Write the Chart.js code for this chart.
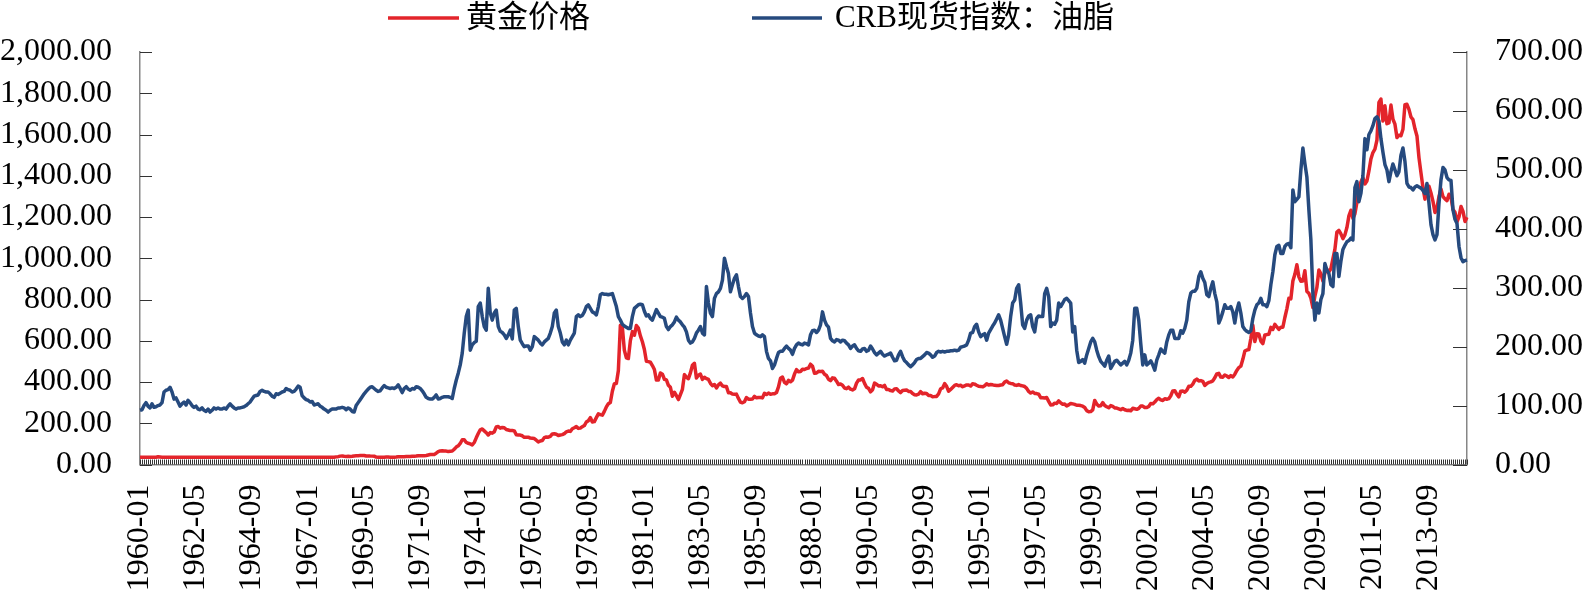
<!DOCTYPE html>
<html>
<head>
<meta charset="utf-8">
<script src="https://cdn.jsdelivr.net/npm/chart.js@4.4.1/dist/chart.umd.min.js"></script>
<style>
html,body{margin:0;padding:0;background:#fff;}
#wrap{width:1582px;height:590px;position:relative;}
</style>
</head>
<body>
<div id="wrap"><canvas id="c"></canvas></div>
<script>
// ---------- data ----------
const seriesNames = ['黄金价格', 'CRB现货指数：油脂'];
const startYear = 1960;
const labelStep = 28;               // a date label every 28 months
const leftTickValues = [0, 200, 400, 600, 800, 1000, 1200, 1400, 1600, 1800, 2000];
const rightTickValues = [0, 100, 200, 300, 400, 500, 600, 700];

// gold price, monthly (USD/oz), 1960-01 .. 2015-04
const gold = [
35.1,35.1,35.1,35.1,35.1,35.1,35.2,35.3,35.5,37.5,36.5,35.6,
35.6,35.4,35.2,35.1,35.1,35.1,35.1,35.2,35.2,35.1,35.1,35.1,
35.1,35.1,35.1,35.1,35.1,35.1,35.1,35.1,35.1,35.1,35.1,35.1,
35.1,35.1,35.1,35.1,35.1,35.1,35.1,35.1,35.1,35.1,35.1,35.1,
35.1,35.1,35.1,35.1,35.1,35.1,35.1,35.1,35.1,35.1,35.1,35.1,
35.1,35.1,35.2,35.2,35.1,35.1,35.1,35.2,35.2,35.2,35.2,35.2,
35.2,35.2,35.2,35.2,35.2,35.2,35.2,35.2,35.2,35.2,35.2,35.2,
35.2,35.2,35.2,35.2,35.2,35.2,35.2,35.2,35.2,35.2,35.2,35.2,
35.2,35.2,37.0,38.0,40.6,41.0,39.5,39.2,39.5,39.1,40.0,41.5,
42.3,42.6,43.3,43.5,43.5,41.3,41.8,41.0,40.6,40.4,36.1,35.2,
34.9,35.0,35.3,35.9,36.0,35.4,35.3,35.4,36.2,37.5,37.4,37.4,
37.9,38.7,38.9,39.0,40.5,40.1,41.0,42.7,42.0,42.5,42.9,43.5,
45.8,48.3,48.3,49.0,54.6,62.1,65.7,67.0,65.5,64.9,62.9,63.9,
65.1,74.2,84.4,90.5,102.0,120.1,120.2,106.8,103.0,100.1,94.9,106.7,
129.2,150.2,168.4,172.2,163.1,154.1,143.0,154.6,151.8,158.8,181.7,183.9,
176.3,179.6,178.2,169.8,167.4,164.3,165.2,163.1,144.1,142.8,142.8,139.3,
131.7,132.3,132.6,128.1,126.9,125.8,117.8,109.4,114.0,116.0,130.3,133.6,
132.3,136.3,148.2,149.2,146.6,140.8,143.3,144.9,149.4,158.6,162.1,160.5,
173.2,178.1,183.7,175.1,176.3,183.4,188.8,206.0,212.4,227.4,206.1,207.8,
227.3,245.7,242.0,239.2,257.6,279.1,294.7,300.8,355.1,391.7,392.5,455.1,
675.3,665.3,553.6,517.4,513.8,600.7,644.3,626.5,673.6,661.2,623.5,594.9,
557.4,500.4,498.8,495.8,479.7,460.8,409.3,410.1,443.8,437.8,413.4,410.1,
384.1,374.2,330.6,350.5,333.9,314.9,339.1,364.3,435.8,422.4,416.2,444.3,
481.3,491.0,419.7,432.8,438.4,412.7,422.7,416.3,412.2,393.7,381.7,388.0,
370.9,386.4,394.2,381.3,377.6,377.7,347.5,348.0,341.2,340.2,341.2,320.2,
302.8,299.1,304.0,324.5,316.5,316.6,317.5,330.3,323.3,325.0,324.9,322.9,
345.4,339.2,346.3,340.5,342.5,342.6,348.7,376.5,418.0,423.8,398.5,391.3,
408.3,401.1,408.9,438.4,460.1,449.6,451.0,461.6,460.3,465.4,467.4,486.3,
476.6,442.1,443.6,451.8,451.4,451.8,437.4,431.2,413.4,406.8,420.0,418.5,
404.0,388.0,390.1,384.2,371.0,367.6,375.0,365.4,361.7,366.9,394.3,409.5,
410.1,416.8,393.1,374.3,369.1,352.3,362.5,394.7,389.3,381.0,381.8,376.6,
383.6,363.3,363.5,358.4,356.8,366.7,367.7,356.4,348.7,358.7,360.0,361.1,
354.5,353.9,344.3,338.6,337.2,340.8,353.1,343.0,345.4,344.4,335.0,334.8,
329.0,329.3,330.1,342.2,367.2,371.4,392.0,378.9,355.3,364.2,373.8,383.3,
387.0,382.0,383.9,377.3,381.4,385.6,385.5,380.4,391.6,389.8,384.4,379.3,
378.6,376.5,381.8,391.0,385.2,387.6,386.2,383.7,383.1,383.0,385.5,387.0,
399.5,404.8,396.2,392.9,391.9,385.3,383.5,387.5,383.1,381.1,378.0,369.3,
354.2,346.5,351.8,344.5,343.8,340.8,324.1,324.0,322.8,324.9,306.0,288.7,
289.3,297.5,295.9,308.4,299.1,292.3,292.9,284.1,289.0,296.1,294.1,291.6,
287.1,287.3,285.9,282.6,276.4,261.3,256.1,256.7,264.7,310.7,293.2,283.1,
284.6,300.0,286.4,280.0,275.3,285.7,281.6,274.5,273.7,270.0,266.0,271.5,
265.5,261.9,263.0,260.5,272.4,270.2,267.5,272.4,283.4,283.1,276.2,275.9,
281.7,295.5,294.0,302.7,314.5,321.2,313.3,310.3,319.2,316.6,319.2,333.4,
356.9,358.0,340.6,328.2,355.7,356.4,351.0,359.8,378.9,378.9,389.9,407.6,
414.0,405.3,406.7,403.0,383.8,392.4,398.1,400.5,405.3,420.5,439.4,442.1,
424.0,423.4,434.2,429.2,421.9,430.7,424.5,437.9,456.0,469.9,476.7,509.8,
549.9,555.0,557.1,610.6,675.4,596.2,633.8,632.6,598.2,585.8,627.8,629.8,
631.2,664.8,654.9,679.4,666.9,655.5,665.3,665.4,712.7,754.6,806.3,803.2,
889.6,922.3,968.4,909.7,888.7,889.5,939.8,839.0,829.9,806.6,760.9,816.1,
858.7,943.2,924.3,890.2,928.6,945.7,934.2,949.4,996.6,1043.2,1127.0,1134.7,
1118.0,1095.4,1113.3,1148.7,1205.4,1232.9,1193.0,1215.8,1271.0,1342.0,1369.9,1390.6,
1360.5,1374.7,1423.3,1480.9,1512.6,1529.0,1572.8,1755.8,1771.9,1665.2,1739.0,1652.3,
1656.1,1742.6,1673.8,1650.1,1585.5,1596.7,1593.9,1626.0,1744.5,1746.6,1721.6,1684.8,
1671.9,1627.6,1593.1,1487.9,1414.0,1342.4,1286.7,1347.1,1348.6,1316.6,1275.8,1221.5,
1244.3,1299.6,1336.1,1299.0,1287.5,1279.1,1310.6,1296.0,1236.6,1222.5,1176.3,1200.6,
1250.8,1227.1,1178.6,1198.9
];

// CRB spot index: fats & oils, monthly in segments
const crbA = [ // 1960-01 .. 1964-12
92,93,100,105,99,96,103,97,98,100,101,105,
123,126,127,131,123,111,113,106,99,103,106,101,
109,105,100,97,99,94,93,96,92,90,94,89,
92,96,94,96,94,94,96,94,99,103,99,96,
94,96,96,97,98,100,103,106,111,116,117,118
];
const crbB = [ // 1965-01 .. 1970-03
124,126,124,123,123,120,116,114,120,119,121,123,
124,129,127,126,123,124,128,133,131,117,113,110,
109,106,107,101,102,103,99,97,94,92,89,92,
94,94,94,96,96,97,96,93,96,94,90,89,
100,105,110,115,120,124,128,131,132,129,126,124,
125,130,134
];
const crbC = [ // 1970-04 .. 1975-06
131,130,129,130,129,131,135,129,122,129,132,128,
126,129,128,132,131,129,125,120,114,112,111,111,
114,118,111,112,114,115,115,115,114,112,129,143,
155,169,189,223,251,262,194,203,207,209,268,274,
251,234,228,299,257,245,257,262,234,226,224,220,
214,220,228
];
const crbD = [ // 1975-07 .. 1980-08
213,262,265,234,211,205,200,201,201,194,200,217,
214,211,206,203,208,211,214,223,234,257,262,234,
223,208,203,211,203,211,217,223,251,254,251,253,
259,268,271,265,259,257,254,268,288,290,289,289,
288,289,290,279,268,251,245,238,235,233,231,231,
251,265
];
const crbE = [ // 1980-09 .. 1985-11
268,271,272,271,260,252,254,248,245,254,263,257,
251,250,248,234,229,234,237,242,250,245,242,237,
233,225,211,206,208,214,223,228,234,223,220,302,
274,257,251,282,290,293,299,313,350,336,324,293,
305,316,322,302,285,282,285,290,285,257,234,223,
220,218,217
];
const crbF = [ // 1985-12 .. 1991-01
220,217,192,180,176,163,169,180,190,192,192,197,
201,197,194,187,197,203,206,204,203,206,205,203,
220,227,228,224,228,237,259,245,237,233,214,210,
208,212,211,208,211,210,206,203,197,201,203,197,
193,192,196,197,192,194,201,196,190,186,189,192,
187,184
];
const crbG = [ // 1991-02 .. 1996-04
186,187,189,182,176,177,186,192,183,176,173,169,
166,169,173,178,180,180,183,186,190,189,186,182,
184,190,192,191,192,191,192,192,193,193,194,193,
194,199,200,201,203,211,223,224,234,238,225,217,
220,222,211,223,229,235,240,247,254,245,231,217,
204,220,251
];
const crbH = [ // 1996-05 .. 2001-06
274,279,299,305,274,237,231,245,252,254,234,225,
248,252,251,251,290,299,285,234,240,238,245,274,
268,274,280,282,278,274,225,234,194,173,175,178,
172,186,197,208,214,208,194,183,175,171,167,177,
184,163,169,175,177,173,169,172,175,169,177,189,
211,265
];
const crbI = [ // 2001-07 .. 2006-09
265,245,205,169,186,169,172,176,169,160,177,186,
196,192,189,208,220,228,228,214,214,214,227,223,
231,245,276,291,294,294,299,319,327,316,309,288,
285,299,310,290,276,240,248,259,271,265,265,268,
259,240,262,274,257,234,229,226,224,227,248,262,
271,274,282
];
const crbJ = [ // 2006-10 .. 2011-11
271,271,268,278,305,327,356,370,372,358,358,370,
374,375,368,466,446,450,454,500,537,511,488,432,
381,290,245,274,257,280,290,341,330,324,305,302,
358,358,319,345,365,372,378,380,384,381,470,480,
446,460,490,553,534,560,566,575,587,590,583,553,
530,509
];
const crbK = [ // 2011-12 .. 2015-04
500,480,497,510,500,490,497,525,537,514,477,471,
470,466,471,473,471,469,465,460,477,443,407,390,
381,390,443,483,504,500,487,483,482,432,416,409,
370,351,344,346,347
];

const crb = [].concat(crbA, crbB, crbC, crbD, crbE, crbF, crbG, crbH, crbI, crbJ, crbK);

const months = [];
for (let k = 0; k < gold.length; k++) {
  const y = startYear + Math.floor(k / 12);
  const m = (k % 12) + 1;
  months.push(y + '-' + (m < 10 ? '0' + m : '' + m));
}

// ---------- style ----------
const RED = '#E3242B';
const BLUE = '#264A7E';
const FONT = "'Liberation Serif', 'Times New Roman', 'Noto Sans CJK SC', serif";
const FS = 32;
const LEGEND_FS = 31;
const AXIS_GRAY = '#868686';

function fmtNum(v) {
  return Number(v).toLocaleString('en-US', {minimumFractionDigits: 2, maximumFractionDigits: 2});
}

const innerTicks = {
  id: 'innerTicks',
  beforeDatasetsDraw(chart) {
    const {ctx, chartArea: a, scales} = chart;
    ctx.save();
    ctx.lineWidth = 1;
    ctx.strokeStyle = '#333';
    ctx.beginPath();
    const yl = scales.yL;
    yl.ticks.forEach(t => {
      const y = Math.round(yl.getPixelForValue(t.value)) + 0.5;
      ctx.moveTo(a.left, y); ctx.lineTo(a.left + 12, y);
    });
    const yr = scales.yR;
    yr.ticks.forEach(t => {
      const y = Math.round(yr.getPixelForValue(t.value)) + 0.5;
      ctx.moveTo(a.right - 14, y); ctx.lineTo(a.right, y);
    });
    const xs = scales.x;
    for (let i = 0; i < xs.ticks.length; i++) {
      const px = Math.round(xs.getPixelForTick(i)) + 0.5;
      ctx.moveTo(px, a.bottom); ctx.lineTo(px, a.bottom - 5);
    }
    ctx.stroke();
    ctx.restore();
  }
};

const topLegend = {
  id: 'topLegend',
  afterDraw(chart) {
    const ctx = chart.ctx;
    const items = [
      {x1: 388, x2: 459, tx: 466, color: RED, text: chart.data.datasets[0].label},
      {x1: 752, x2: 822, tx: 835, color: BLUE, text: chart.data.datasets[1].label}
    ];
    const cy = 18;
    ctx.save();
    items.forEach(it => {
      ctx.strokeStyle = it.color;
      ctx.lineWidth = 3.5;
      ctx.beginPath();
      ctx.moveTo(it.x1, cy); ctx.lineTo(it.x2, cy);
      ctx.stroke();
      ctx.fillStyle = '#000';
      ctx.font = LEGEND_FS + 'px ' + FONT;
      ctx.textBaseline = 'middle';
      ctx.textAlign = 'left';
      ctx.fillText(it.text, it.tx, cy + 1);
    });
    ctx.restore();
  }
};

new Chart(document.getElementById('c'), {
  type: 'line',
  data: {
    labels: months,
    datasets: [
      {label: seriesNames[0], data: gold, yAxisID: 'yL', borderColor: RED, backgroundColor: RED,
       borderWidth: 3.5, pointRadius: 0, tension: 0, order: 2, borderJoinStyle: 'round'},
      {label: seriesNames[1], data: crb, yAxisID: 'yR', borderColor: BLUE, backgroundColor: BLUE,
       borderWidth: 3.5, pointRadius: 0, tension: 0, order: 1, borderJoinStyle: 'round'}
    ]
  },
  options: {
    responsive: true,
    maintainAspectRatio: false,
    animation: false,
    layout: {padding: {top: 52, left: 0, right: 0, bottom: 0}},
    plugins: {legend: {display: false}, tooltip: {enabled: false}},
    scales: {
      x: {
        type: 'category',
        offset: false,
        grid: {display: false, drawTicks: false},
        border: {display: true, color: AXIS_GRAY, width: 1.5},
        ticks: {
          autoSkip: false, maxRotation: 90, minRotation: 90, padding: 20,
          color: '#000', font: {family: FONT, size: FS},
          callback: (v, i) => (i % labelStep === 0 ? months[i] : '')
        },
        afterFit: s => { s.height = 125.5; }
      },
      yL: {
        position: 'left', min: 0, max: 2000,
        afterBuildTicks: s => { s.ticks = leftTickValues.map(v => ({value: v})); },
        grid: {display: false, drawTicks: false},
        border: {display: true, color: AXIS_GRAY, width: 1.5},
        ticks: {autoSkip: false, padding: 28, color: '#000', font: {family: FONT, size: FS}, callback: v => fmtNum(v)},
        afterFit: s => { s.width = 140; }
      },
      yR: {
        position: 'right', min: 0, max: 700,
        afterBuildTicks: s => { s.ticks = rightTickValues.map(v => ({value: v})); },
        grid: {display: false, drawTicks: false},
        border: {display: true, color: AXIS_GRAY, width: 1.5},
        ticks: {autoSkip: false, padding: 28, color: '#000', font: {family: FONT, size: FS}, callback: v => fmtNum(v)},
        afterFit: s => { s.width = 115; }
      }
    }
  },
  plugins: [innerTicks, topLegend]
});
</script>
</body>
</html>
